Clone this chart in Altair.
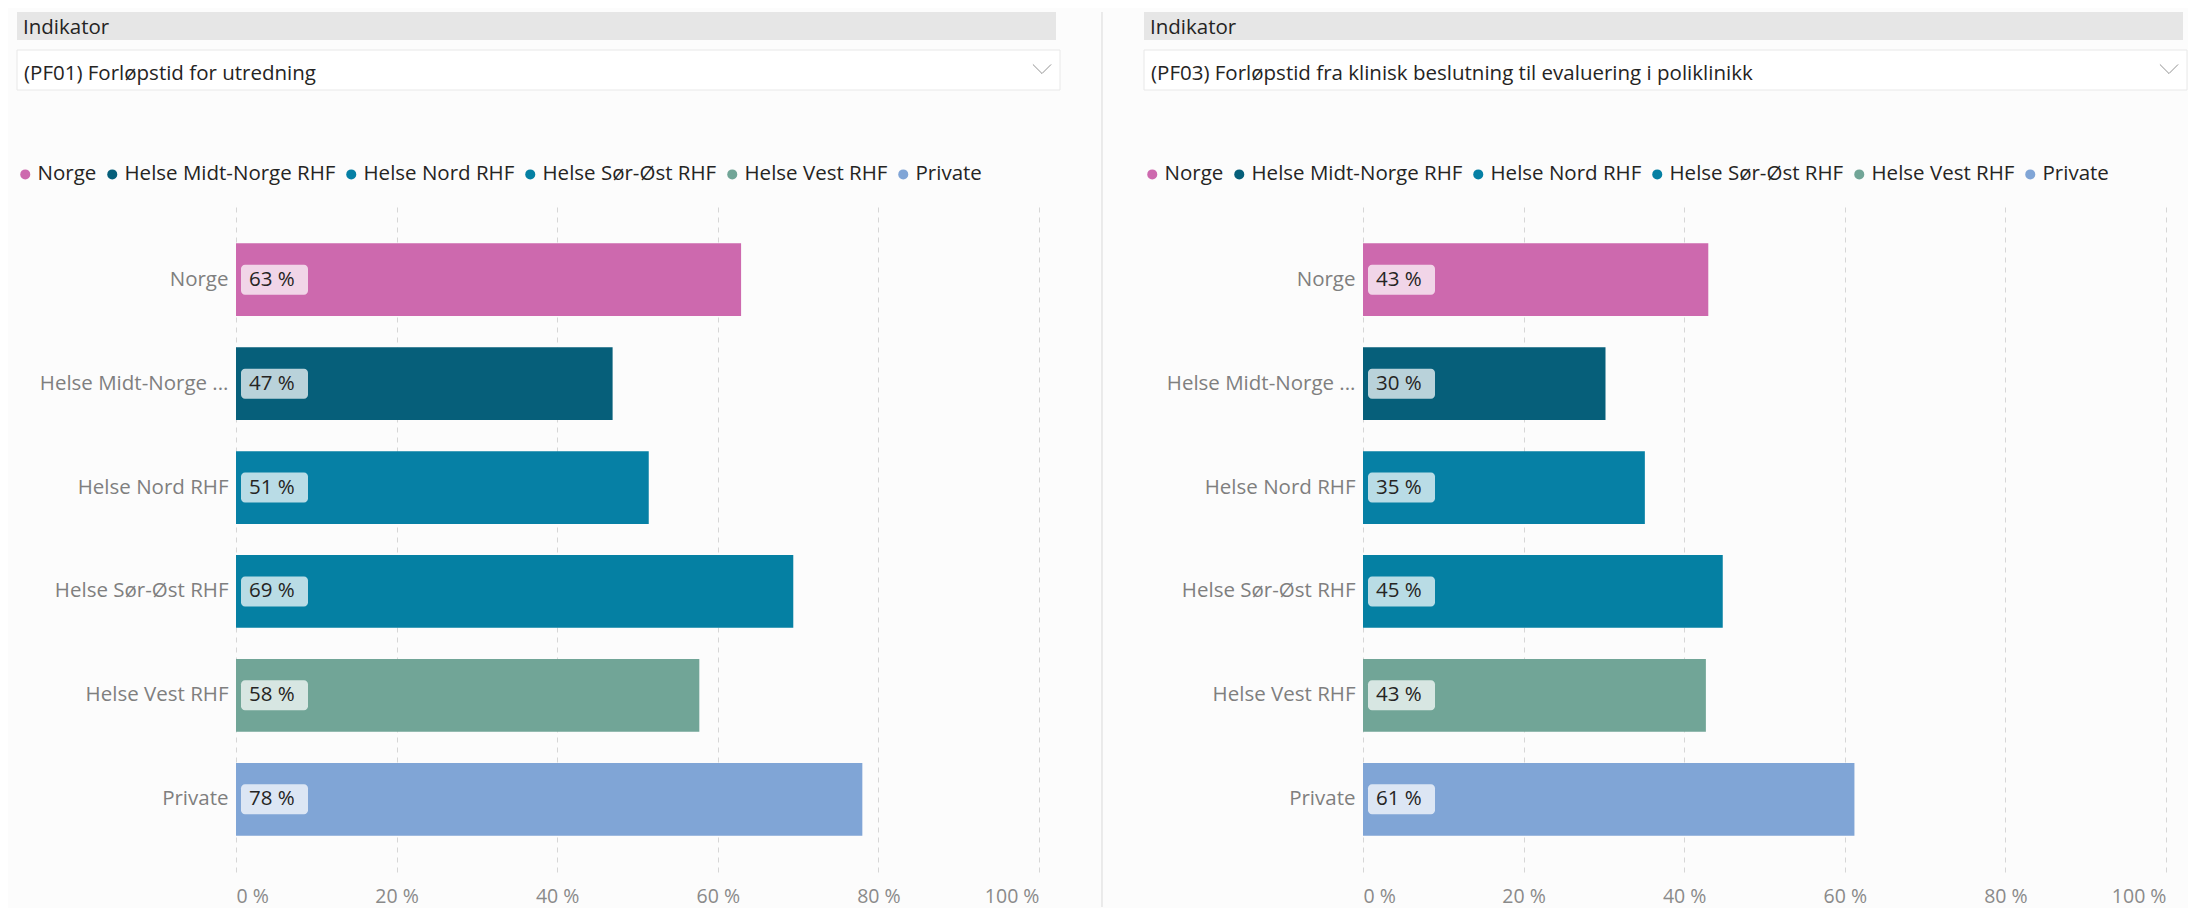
import altair as alt
import pandas as pd

# ---- data ----
regions = ["Norge", "Helse Midt-Norge RHF", "Helse Nord RHF",
           "Helse Sør-Øst RHF", "Helse Vest RHF", "Private"]
pf01_values = [62.9, 46.9, 51.4, 69.4, 57.7, 78.0]
pf03_values = [43.0, 30.2, 35.1, 44.8, 42.7, 61.2]
colors = ["#CD69AE", "#065F7A", "#0680A5", "#0580A3", "#71A597", "#80A5D6"]
tick_values = [0, 20, 40, 60, 80, 100]
slicer_title = "Indikator"
indicators = ["(PF01) Forløpstid for utredning",
              "(PF03) Forløpstid fra klinisk beslutning til evaluering i poliklinikk"]

FONT = "Open Sans"
PLOT_W = 803
PLOT_H = 665
FS = 20.5


def panel(values, indicator, divider):
    df = pd.DataFrame({"region": regions, "value": values})
    df["label"] = [f"{round(v)} %" for v in values]
    base = alt.Chart(df)

    y = alt.Y(
        "region:N", sort=regions,
        scale=alt.Scale(paddingInner=0.3, paddingOuter=0.35),
        axis=alt.Axis(
            title=None, domain=False, ticks=False, labelPadding=8,
            labelFontSize=FS, labelColor="#7F7F7F", labelFont=FONT,
            labelLimit=400,
            labelExpr="datum.label == 'Helse Midt-Norge RHF' ? 'Helse Midt-Norge ...' : datum.label",
        ),
    )
    x = alt.X(
        "value:Q", scale=alt.Scale(domain=[0, 100], nice=False),
        axis=alt.Axis(
            title=None, values=tick_values, domain=False, ticks=False,
            labelExpr="datum.value + ' %'", labelFontSize=19.5,
            labelColor="#8A8A8A", labelFont=FONT, labelPadding=15,
            grid=True, gridDash=[5, 5], gridColor="#D6D6D6", gridWidth=1,
        ),
    )
    bars = base.mark_bar().encode(
        x=x, y=y,
        color=alt.Color(
            "region:N",
            scale=alt.Scale(domain=regions, range=colors),
            legend=alt.Legend(
                title=None, orient="none", direction="horizontal",
                legendX=-221, legendY=-43, symbolType="circle",
                symbolSize=100, symbolStrokeWidth=0, labelFontSize=FS,
                labelColor="#252423", labelFont=FONT, labelOffset=2,
                labelLimit=400, columnPadding=5,
            ),
        ),
    )
    boxes = base.mark_bar(height=30, cornerRadius=4, color="white",
                          opacity=0.72).encode(
        x=alt.value(5), x2=alt.value(72), y=y)
    labels = base.mark_text(align="left", baseline="middle", fontSize=FS,
                            font=FONT, color="#252423").encode(
        x=alt.value(13), y=y, text="label:N")

    hdr_df = pd.DataFrame({"t": [slicer_title]})
    header_bg = alt.Chart(hdr_df).mark_rect(color="#E6E6E6").encode(
        x=alt.value(-219), x2=alt.value(820),
        y=alt.value(-195), y2=alt.value(-167))
    header_txt = alt.Chart(hdr_df).mark_text(
        align="left", baseline="middle", fontSize=FS, font=FONT,
        color="#252423").encode(
        x=alt.value(-213), y=alt.value(-179), text="t:N")

    dd_df = pd.DataFrame({"t": [indicator]})
    dd_bg = alt.Chart(dd_df).mark_rect(
        fill="#FFFFFF", stroke="#E8E8E8", strokeWidth=1).encode(
        x=alt.value(-219), x2=alt.value(824),
        y=alt.value(-157), y2=alt.value(-117))
    dd_txt = alt.Chart(dd_df).mark_text(
        align="left", baseline="middle", fontSize=FS, font=FONT,
        color="#252423").encode(
        x=alt.value(-212), y=alt.value(-133), text="t:N")
    chevron = alt.Chart(dd_df).mark_point(
        shape="M-1,-0.5L0,0.5L1,-0.5", filled=False, size=330,
        stroke="#666666", strokeWidth=1).encode(
        x=alt.value(806), y=alt.value(-138))

    layers = [header_bg, header_txt, dd_bg, dd_txt, chevron, bars, boxes, labels]
    if divider:
        div = alt.Chart(hdr_df).mark_rule(color="#D9D9D9", strokeWidth=1).encode(
            x=alt.value(866), y=alt.value(-195), y2=alt.value(700))
        layers.append(div)
    return alt.layer(*layers).properties(width=PLOT_W, height=PLOT_H)


left = panel(pf01_values, indicators[0], True)
right = panel(pf03_values, indicators[1], False)

chart = alt.hconcat(left, right, spacing=39).resolve_scale(
    color="independent").properties(
    padding={"left": 7, "top": 3, "right": 0, "bottom": 0},
    background="#FCFCFC",
).configure_view(stroke=None)

chart.save("out.html", embed_options={"renderer": "svg", "actions": False})
